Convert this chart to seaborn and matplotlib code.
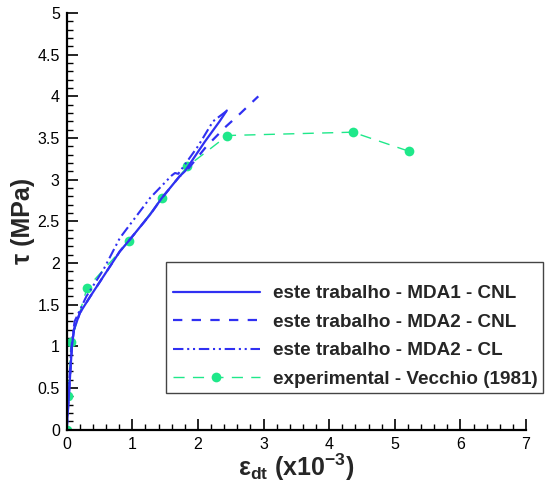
import matplotlib
matplotlib.use("Agg")
import matplotlib.pyplot as plt
from matplotlib.patches import Rectangle
from matplotlib.ticker import MultipleLocator
import seaborn as sns

sns.set_theme(style="ticks")
plt.rcParams['font.family'] = ['Liberation Sans', 'DejaVu Sans']
plt.rcParams['mathtext.fontset'] = 'custom'
plt.rcParams['mathtext.rm'] = 'Liberation Sans'
plt.rcParams['mathtext.bf'] = 'Liberation Sans:bold'
plt.rcParams['mathtext.it'] = 'Liberation Sans'

# MDA1 - CNL (solid)
mda1_cnl_x = [0.0, 0.02, 0.04, 0.06, 0.08, 0.11, 0.2, 0.36, 0.56, 0.81, 0.95, 1.27, 1.45, 1.72, 1.80, 2.10, 2.33, 2.44]
mda1_cnl_y = [0.0, 0.25, 0.5, 0.75, 1.0, 1.2, 1.4, 1.6, 1.84, 2.14, 2.27, 2.58, 2.78, 3.04, 3.10, 3.45, 3.70, 3.83]

# MDA2 - CNL (dashed)
mda2_cnl_x = [0.0, 0.02, 0.04, 0.06, 0.08, 0.11, 0.2, 0.36, 0.56, 0.81, 0.95, 1.27, 1.45, 1.72, 1.82, 2.13, 2.43, 2.64, 2.92]
mda2_cnl_y = [0.0, 0.25, 0.5, 0.75, 1.0, 1.2, 1.4, 1.6, 1.84, 2.14, 2.27, 2.58, 2.78, 3.04, 3.10, 3.40, 3.64, 3.79, 4.00]

# MDA2 - CL (dash-dot-dot)
mda2_cl_x = [0.0, 0.02, 0.04, 0.06, 0.08, 0.12, 0.3, 0.56, 0.81, 1.27, 1.60, 1.65, 1.70, 2.00, 2.23, 2.43]
mda2_cl_y = [0.0, 0.3, 0.6, 0.85, 1.05, 1.3, 1.6, 1.92, 2.30, 2.78, 3.05, 3.08, 3.07, 3.40, 3.70, 3.82]

# experimental - Vecchio (1981)
exp_x = [0.0, 0.025, 0.065, 0.31, 0.95, 1.45, 1.84, 2.45, 4.36, 5.22]
exp_y = [0.0, 0.40, 1.055, 1.70, 2.26, 2.78, 3.16, 3.53, 3.57, 3.34]

labels = ["este trabalho - MDA1 - CNL",
          "este trabalho - MDA2 - CNL",
          "este trabalho - MDA2 - CL",
          "experimental - Vecchio (1981)"]

blue = '#3030f2'
green = '#1fe88a'

fig = plt.figure(figsize=(5.45, 4.83), dpi=100)
ax = fig.add_axes([66.7/545, 1-429.7/483, (526-66.7)/545, (429.7-13)/483])

sns.lineplot(x=exp_x, y=exp_y, ax=ax, color=green, lw=1.0, marker='o', markersize=7,
             markeredgewidth=0, estimator=None, sort=False, label=labels[3])
l_exp = ax.lines[-1]
l_exp.set_dashes((8, 6))
sns.lineplot(x=mda2_cl_x, y=mda2_cl_y, ax=ax, color=blue, lw=1.5, estimator=None, sort=False, label=labels[2])
l_cl = ax.lines[-1]
l_cl.set_dashes((5, 1.8, 1, 1.8, 1, 1.8))
sns.lineplot(x=mda2_cnl_x, y=mda2_cnl_y, ax=ax, color=blue, lw=1.6, estimator=None, sort=False, label=labels[1])
l_cnl2 = ax.lines[-1]
l_cnl2.set_dashes((4.2, 4.2))
sns.lineplot(x=mda1_cnl_x, y=mda1_cnl_y, ax=ax, color=blue, lw=1.6, estimator=None, sort=False, label=labels[0])
l_cnl1 = ax.lines[-1]

ax.set_xlim(0, 7)
ax.set_ylim(0, 5)
ax.xaxis.set_major_locator(MultipleLocator(1))
ax.xaxis.set_minor_locator(MultipleLocator(0.2))
ax.yaxis.set_minor_locator(MultipleLocator(0.1))
ax.set_yticks([0, 0.5, 1, 1.5, 2, 2.5, 3, 3.5, 4, 4.5, 5])
ax.set_yticklabels(['0', '0.5', '1', '1.5', '2', '2.5', '3', '3.5', '4', '4.5', '5'])
ax.tick_params(which='major', direction='in', length=8, width=1.2, labelsize=11.5, pad=5, color='black', labelcolor='black')
ax.tick_params(which='minor', direction='in', length=4.5, width=1.0, color='black')
for s in ['top', 'right']:
    ax.spines[s].set_visible(False)
for s in ['left', 'bottom']:
    ax.spines[s].set_linewidth(1.6)
    ax.spines[s].set_color('black')

ax.set_xlabel(r'$\mathregular{ε}_{\mathbf{dt}}$ (x10$^{\mathbf{-3}}$)', fontsize=18, fontweight='bold', labelpad=0)
ax.set_ylabel('τ (MPa)', fontsize=18, fontweight='bold')
ax.yaxis.set_label_coords(-0.07, 0.5)

ax.get_legend().remove()
fig.add_artist(Rectangle((166/545, 1-393/483), 377/545, 131/483, transform=fig.transFigure,
                         facecolor='white', edgecolor='#444444', lw=1.0, zorder=5))
leg = fig.legend([l_cnl1, l_cnl2, l_cl, l_exp], labels, loc='upper left',
                 bbox_to_anchor=(173/545, 1-285/483), frameon=False, borderpad=0,
                 borderaxespad=0, handlelength=4.6, handletextpad=0.7, labelspacing=0.6,
                 prop={'weight': 'bold', 'size': 13.6}, numpoints=1)
leg.set_zorder(6)

fig.savefig('out.png', dpi=100)
